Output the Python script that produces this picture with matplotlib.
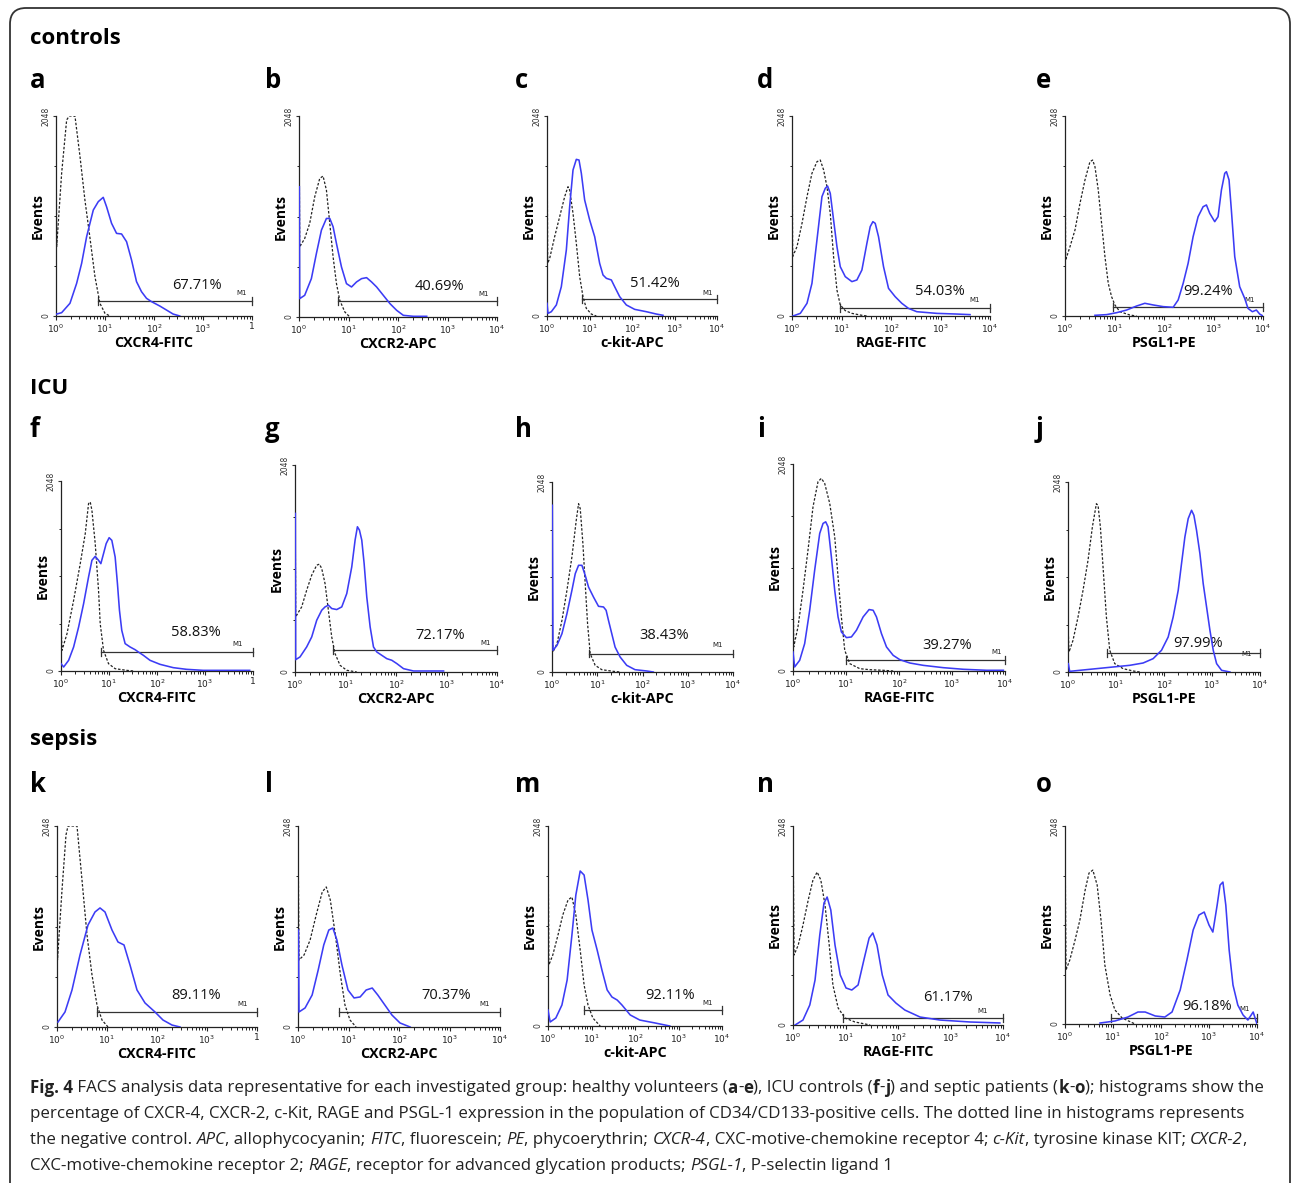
import numpy as np
import matplotlib
matplotlib.use('Agg')
import matplotlib.pyplot as plt
from matplotlib.patches import FancyBboxPatch
from matplotlib.transforms import IdentityTransform
from matplotlib.ticker import FixedLocator, NullFormatter, LogLocator

# ---------------- data (x = log10 fluorescence, y = events) ----------------
GROUPS = ['controls', 'ICU', 'sepsis']
LETTERS = list('abcdefghijklmno')
MARKERS = ['CXCR4-FITC', 'CXCR2-APC', 'c-kit-APC', 'RAGE-FITC', 'PSGL1-PE']
PERCENTS = ['67.71%', '40.69%', '51.42%', '54.03%', '99.24%',
            '58.83%', '72.17%', '38.43%', '39.27%', '97.99%',
            '89.11%', '70.37%', '92.11%', '61.17%', '96.18%']
GATE_START = [0.85, 0.79, 0.82, 0.96, 0.975, 0.83, 0.76, 0.82, 0.995, 0.82,
              0.80, 0.81, 0.83, 0.95, 0.96]
GATE_LEVEL = [154, 160, 171, 85, 89, 205, 215, 198, 112, 205, 153, 153, 164, 72, 62]
Y_MAX = 2048

a_ctrl_x = [0.0, 0.014, 0.115, 0.217, 0.27, 0.387, 0.49, 0.59, 0.69, 0.795, 0.896, 1.0, 1.1]
a_ctrl_y = [1930, 710, 1461, 2007, 2048, 2048, 1632, 1188, 812, 403, 130, 27, 0]
a_pos_x = [0.014, 0.115, 0.285, 0.421, 0.523, 0.625, 0.693, 0.761, 0.863, 0.964, 1.032, 1.134,
           1.236, 1.338, 1.44, 1.542, 1.643, 1.745, 1.847, 1.949, 2.119, 2.255, 2.39, 2.526]
a_pos_y = [20, 34, 130, 334, 539, 812, 949, 1085, 1171, 1215, 1119, 949,
           846, 840, 761, 573, 352, 249, 181, 147, 102, 61, 20, 0]

b_ctrl_x = [0.0, 0.014, 0.115, 0.216, 0.318, 0.419, 0.486, 0.554, 0.622, 0.689, 0.757, 0.824, 0.926, 1.027]
b_ctrl_y = [2048, 714, 800, 953, 1225, 1412, 1436, 1293, 953, 612, 340, 170, 51, 0]
b_pos_x = [0.007, 0.014, 0.115, 0.25, 0.351, 0.453, 0.554, 0.622, 0.689, 0.757, 0.858, 0.959,
           1.061, 1.162, 1.264, 1.365, 1.466, 1.568, 1.703, 1.838, 1.973, 2.108, 2.311, 2.58]
b_pos_y = [1327, 187, 221, 391, 646, 885, 1004, 1004, 919, 748, 510, 340,
           306, 357, 391, 401, 357, 306, 221, 136, 68, 17, 7, 7]

c_ctrl_x = [0.0, 0.016, 0.063, 0.18, 0.298, 0.416, 0.494, 0.533, 0.612, 0.69, 0.769, 0.847, 0.925, 1.043, 1.16]
c_ctrl_y = [2048, 539, 590, 812, 1017, 1222, 1324, 1290, 1051, 744, 403, 198, 78, 20, 0]
c_pos_x = [0.0, 0.024, 0.102, 0.22, 0.337, 0.455, 0.533, 0.612, 0.69, 0.753, 0.808, 0.886,
           1.004, 1.122, 1.239, 1.318, 1.396, 1.514, 1.592, 1.71, 1.867, 2.063, 2.337, 2.573, 2.729]
c_pos_y = [130, 27, 44, 113, 300, 676, 1119, 1495, 1604, 1597, 1461, 1188,
           983, 812, 539, 420, 386, 369, 300, 198, 113, 68, 44, 20, 7]

d_ctrl_x = [0.0, 0.013, 0.101, 0.202, 0.303, 0.403, 0.504, 0.571, 0.639, 0.706, 0.773, 0.84,
            0.908, 0.975, 1.076, 1.21, 1.378, 1.513]
d_ctrl_y = [2048, 608, 710, 949, 1222, 1461, 1580, 1597, 1495, 1324, 1051, 608,
            266, 113, 55, 27, 10, 0]
d_pos_x = [0.02, 0.168, 0.303, 0.403, 0.504, 0.605, 0.672, 0.719, 0.773, 0.84, 0.908, 0.975,
           1.076, 1.21, 1.311, 1.412, 1.513, 1.58, 1.634, 1.681, 1.748, 1.849, 1.95, 2.084,
           2.218, 2.353, 2.521, 2.924, 3.328, 3.597]
d_pos_y = [0, 27, 130, 334, 778, 1222, 1307, 1331, 1256, 983, 710, 505,
           403, 352, 369, 471, 744, 915, 966, 949, 812, 505, 283, 198,
           130, 78, 44, 27, 20, 14]

e_ctrl_x = [0.0, 0.013, 0.101, 0.202, 0.303, 0.403, 0.504, 0.558, 0.605, 0.672, 0.739, 0.807,
            0.874, 0.941, 1.008, 1.109, 1.311, 1.445]
e_ctrl_y = [2048, 573, 710, 881, 1154, 1392, 1580, 1597, 1529, 1290, 949, 608,
            334, 198, 113, 44, 10, 0]
e_pos_x = [0.605, 0.84, 1.042, 1.244, 1.445, 1.613, 1.782, 1.983, 2.185, 2.286, 2.387, 2.487,
           2.588, 2.689, 2.79, 2.857, 2.924, 3.025, 3.092, 3.16, 3.227, 3.261, 3.314, 3.361,
           3.429, 3.529, 3.63, 3.697, 3.785, 3.866, 3.933, 4.0]
e_pos_y = [7, 14, 34, 61, 102, 130, 113, 96, 89, 164, 334, 539,
           812, 1017, 1119, 1137, 1051, 966, 1017, 1290, 1461, 1478, 1393, 1085,
           608, 300, 181, 78, 44, 61, 20, 0]

f_ctrl_x = [0.0, 0.021, 0.125, 0.263, 0.401, 0.505, 0.574, 0.609, 0.644, 0.713, 0.782, 0.817,
            0.886, 0.99, 1.128, 1.37, 1.509]
f_ctrl_y = [510, 223, 402, 762, 1157, 1480, 1804, 1822, 1732, 1373, 869, 510,
            223, 79, 25, 7, 0]
f_pos_x = [0.0, 0.055, 0.159, 0.263, 0.367, 0.471, 0.574, 0.644, 0.713, 0.782, 0.83, 0.886,
           0.941, 1.003, 1.059, 1.128, 1.176, 1.218, 1.266, 1.336, 1.439, 1.543, 1.612, 1.716,
           1.855, 2.062, 2.339, 2.616, 2.962, 3.446, 3.931]
f_pos_y = [79, 43, 115, 259, 474, 726, 1013, 1193, 1236, 1193, 1157, 1265,
           1373, 1437, 1408, 1229, 941, 654, 438, 295, 259, 230, 205, 169,
           115, 72, 36, 18, 7, 7, 7]

g_ctrl_x = [0.0, 0.013, 0.132, 0.231, 0.331, 0.43, 0.483, 0.529, 0.595, 0.661, 0.727, 0.793,
            0.893, 1.025, 1.223]
g_ctrl_y = [2048, 545, 644, 809, 958, 1057, 1067, 1024, 875, 611, 347, 182, 66, 17, 0]
g_pos_x = [0.007, 0.013, 0.099, 0.231, 0.331, 0.43, 0.529, 0.595, 0.661, 0.727, 0.826, 0.926,
           1.025, 1.124, 1.19, 1.236, 1.276, 1.322, 1.369, 1.421, 1.488, 1.554, 1.62, 1.719,
           1.818, 1.917, 2.017, 2.149, 2.347, 2.678, 2.942]
g_pos_y = [1569, 122, 149, 248, 347, 512, 611, 644, 661, 628, 618, 644,
           776, 1040, 1305, 1437, 1404, 1305, 1073, 743, 446, 248, 198, 165,
           132, 116, 83, 33, 10, 10, 10]

h_ctrl_x = [0.0, 0.022, 0.11, 0.22, 0.33, 0.44, 0.536, 0.587, 0.624, 0.683, 0.734, 0.786,
            0.844, 0.954, 1.101, 1.358, 1.505]
h_ctrl_y = [521, 216, 305, 557, 880, 1240, 1635, 1814, 1761, 1383, 952, 521,
            198, 72, 25, 7, 0]
h_pos_x = [0.007, 0.022, 0.11, 0.22, 0.33, 0.44, 0.514, 0.587, 0.661, 0.734, 0.807, 0.917,
           1.028, 1.138, 1.196, 1.248, 1.321, 1.394, 1.505, 1.651, 1.835, 2.092, 2.239]
h_pos_y = [1797, 234, 287, 413, 629, 880, 1060, 1150, 1150, 1042, 916, 808,
           708, 701, 665, 557, 413, 269, 162, 72, 25, 11, 0]

i_ctrl_x = [0.0, 0.013, 0.094, 0.189, 0.283, 0.378, 0.472, 0.535, 0.598, 0.693, 0.787, 0.85,
            0.913, 0.976, 1.071, 1.26, 1.449, 1.701, 1.89]
i_ctrl_y = [1130, 238, 436, 799, 1196, 1625, 1873, 1906, 1856, 1658, 1328, 931,
            535, 205, 73, 23, 13, 7, 0]
i_pos_x = [0.0, 0.031, 0.126, 0.22, 0.315, 0.409, 0.504, 0.567, 0.617, 0.661, 0.724, 0.787,
           0.85, 0.913, 1.008, 1.102, 1.197, 1.323, 1.436, 1.512, 1.575, 1.669, 1.764, 1.89,
           2.016, 2.205, 2.457, 2.835, 3.213, 3.654, 3.969]
i_pos_y = [188, 40, 106, 271, 601, 998, 1361, 1460, 1476, 1427, 1130, 799,
           535, 386, 330, 337, 403, 535, 608, 601, 535, 370, 238, 155,
           112, 79, 56, 33, 17, 7, 7]

j_ctrl_x = [0.0, 0.021, 0.104, 0.209, 0.313, 0.417, 0.508, 0.591, 0.626, 0.675, 0.73, 0.8,
            0.87, 0.974, 1.148, 1.357, 1.496]
j_ctrl_y = [521, 216, 341, 593, 880, 1204, 1563, 1814, 1797, 1563, 1132, 593,
            234, 90, 36, 11, 0]
j_pos_x = [0.007, 0.035, 0.243, 0.591, 0.939, 1.287, 1.565, 1.774, 1.948, 2.087, 2.191, 2.296,
           2.365, 2.435, 2.504, 2.574, 2.623, 2.678, 2.748, 2.817, 2.887, 2.957, 3.026, 3.096,
           3.2, 3.374]
j_pos_y = [90, 7, 18, 36, 54, 72, 97, 144, 234, 377, 593, 880,
           1168, 1455, 1653, 1743, 1689, 1527, 1276, 952, 701, 449, 234, 90,
           18, 0]

k_ctrl_x = [0.0, 0.01, 0.1, 0.18, 0.22, 0.4, 0.5, 0.6, 0.7, 0.8, 0.9, 1.02]
k_ctrl_y = [2048, 683, 1396, 1957, 2048, 2048, 1498, 937, 530, 224, 71, 0]
k_pos_x = [0.02, 0.16, 0.3, 0.46, 0.62, 0.76, 0.86, 0.96, 1.1, 1.22, 1.34, 1.46,
           1.6, 1.76, 1.96, 2.12, 2.3, 2.46]
k_pos_y = [51, 153, 377, 734, 1039, 1172, 1213, 1172, 988, 866, 836, 632,
           377, 245, 153, 71, 20, 0]

l_ctrl_x = [0.0, 0.02, 0.12, 0.24, 0.36, 0.48, 0.56, 0.64, 0.74, 0.84, 0.93, 1.03, 1.15]
l_ctrl_y = [2048, 683, 734, 887, 1141, 1376, 1427, 1294, 937, 530, 224, 71, 0]
l_pos_x = [0.01, 0.02, 0.14, 0.28, 0.4, 0.51, 0.61, 0.69, 0.77, 0.87, 0.99, 1.11,
           1.23, 1.35, 1.47, 1.58, 1.72, 1.86, 2.02, 2.22]
l_pos_y = [988, 153, 194, 326, 581, 836, 988, 1009, 887, 632, 377, 296,
           306, 377, 397, 326, 224, 122, 41, 0]

m_ctrl_x = [0.0, 0.02, 0.11, 0.23, 0.34, 0.46, 0.55, 0.64, 0.74, 0.83, 0.92, 1.03, 1.2]
m_ctrl_y = [2048, 625, 727, 932, 1137, 1290, 1321, 1137, 778, 420, 215, 82, 0]
m_pos_x = [0.0, 0.05, 0.18, 0.32, 0.44, 0.55, 0.64, 0.74, 0.83, 0.92, 1.01, 1.13,
           1.24, 1.36, 1.47, 1.59, 1.7, 1.89, 2.11, 2.46, 2.8]
m_pos_y = [164, 41, 82, 215, 471, 932, 1341, 1587, 1546, 1290, 983, 778,
           573, 369, 297, 266, 215, 113, 61, 31, 0]

n_ctrl_x = [0.0, 0.02, 0.1, 0.19, 0.29, 0.38, 0.46, 0.53, 0.61, 0.69, 0.76, 0.86, 0.99, 1.18, 1.47]
n_ctrl_y = [2048, 720, 823, 1029, 1286, 1492, 1574, 1492, 1235, 823, 412, 175, 72, 31, 0]
n_pos_x = [0.04, 0.19, 0.32, 0.42, 0.51, 0.59, 0.65, 0.72, 0.8, 0.9, 1.01, 1.12,
           1.24, 1.35, 1.45, 1.52, 1.6, 1.7, 1.81, 1.96, 2.13, 2.42, 2.8, 3.37, 3.94]
n_pos_y = [0, 51, 206, 463, 926, 1255, 1317, 1183, 823, 515, 381, 360,
           412, 669, 895, 947, 823, 515, 309, 226, 154, 82, 51, 31, 21]

o_ctrl_x = [0.0, 0.02, 0.1, 0.21, 0.31, 0.42, 0.5, 0.58, 0.67, 0.75, 0.83, 0.94, 1.04, 1.19, 1.46]
o_ctrl_y = [2048, 558, 662, 869, 1075, 1386, 1561, 1592, 1437, 1075, 610, 300, 145, 62, 0]
o_pos_x = [0.73, 1.04, 1.31, 1.52, 1.67, 1.88, 2.08, 2.23, 2.4, 2.54, 2.67, 2.79,
           2.9, 3.0, 3.08, 3.17, 3.23, 3.29, 3.35, 3.42, 3.5, 3.6, 3.71, 3.81, 3.92, 4.0]
o_pos_y = [10, 31, 72, 124, 124, 83, 72, 124, 352, 662, 972, 1127,
           1158, 1024, 951, 1230, 1437, 1468, 1230, 765, 403, 196, 93, 41, 124, 0]

CTRL = [(a_ctrl_x, a_ctrl_y), (b_ctrl_x, b_ctrl_y), (c_ctrl_x, c_ctrl_y), (d_ctrl_x, d_ctrl_y),
        (e_ctrl_x, e_ctrl_y), (f_ctrl_x, f_ctrl_y), (g_ctrl_x, g_ctrl_y), (h_ctrl_x, h_ctrl_y),
        (i_ctrl_x, i_ctrl_y), (j_ctrl_x, j_ctrl_y), (k_ctrl_x, k_ctrl_y), (l_ctrl_x, l_ctrl_y),
        (m_ctrl_x, m_ctrl_y), (n_ctrl_x, n_ctrl_y), (o_ctrl_x, o_ctrl_y)]
POS = [(a_pos_x, a_pos_y), (b_pos_x, b_pos_y), (c_pos_x, c_pos_y), (d_pos_x, d_pos_y),
       (e_pos_x, e_pos_y), (f_pos_x, f_pos_y), (g_pos_x, g_pos_y), (h_pos_x, h_pos_y),
       (i_pos_x, i_pos_y), (j_pos_x, j_pos_y), (k_pos_x, k_pos_y), (l_pos_x, l_pos_y),
       (m_pos_x, m_pos_y), (n_pos_x, n_pos_y), (o_pos_x, o_pos_y)]

# ---------------- layout (pixels) ----------------
W, H = 1292, 1183
# left (10^0), right (10^4), top (2048), bottom (0)
AX_BOX = [(56, 252, 116, 316), (299, 497, 116, 317), (547, 717, 116, 316), (792, 990, 116, 316),
          (1065, 1263, 116, 316),
          (61, 253, 481, 671), (295, 497, 465, 672), (552, 733, 482, 672), (793, 1005, 464, 671),
          (1068, 1260, 482, 672),
          (57, 257, 826, 1027), (298, 500, 826, 1027), (548, 722, 826, 1026), (793, 1003, 826, 1025),
          (1065, 1257, 826, 1024)]
PCT_POS = [(2.87, 317), (2.84, 306), (2.53, 334), (2.99, 249), (2.89, 249),
           (2.82, 420), (2.88, 363), (2.47, 395), (2.90, 254), (2.70, 305),
           (2.78, 326), (2.93, 326), (2.80, 317), (2.95, 288), (2.96, 176)]
M1_POS = [(3.78, 232), (3.73, 232), (3.77, 232), (3.68, 160), (3.73, 160),
          (3.69, 290), (3.77, 290), (3.67, 290), (3.84, 190), (3.72, 190),
          (3.72, 230), (3.70, 230), (3.68, 240), (3.62, 140), (3.75, 150)]
LETTER_X = [30, 265, 515, 757, 1036]
LETTER_Y = [80, 430, 785]
GROUP_Y = [38, 388, 740]

BLUE = '#3c3cf5'
BOLD_FONT = ['Open Sans', 'DejaVu Sans']

fig = plt.figure(figsize=(W / 100, H / 100), dpi=100)
fig.patch.set_facecolor('white')


def fx(x):
    return x / W


def fy(y):
    return 1 - y / H


# border
border = FancyBboxPatch((10, -40), 1280, H - 8 + 40, boxstyle='round,pad=0,rounding_size=16',
                        transform=IdentityTransform(), fill=False, ec='#333333', lw=1.3)
fig.add_artist(border)

for gi, g in enumerate(GROUPS):
    fig.text(fx(30), fy(GROUP_Y[gi]), g, family=BOLD_FONT, fontweight='bold', fontsize=16,
             va='center', ha='left')
    for ci in range(5):
        fig.text(fx(LETTER_X[ci]), fy(LETTER_Y[gi]), LETTERS[gi * 5 + ci], family=BOLD_FONT,
                 fontweight='bold', fontsize=18.5, va='center', ha='left')

for p in range(15):
    L, R, T, B = AX_BOX[p]
    ax = fig.add_axes([fx(L), fy(B), (R - L) / W, (B - T) / H])
    ax.set_xscale('log')
    ax.set_xlim(1, 1e4)
    ax.set_ylim(0, Y_MAX)
    ax.patch.set_alpha(0)
    for s in ['top', 'right']:
        ax.spines[s].set_visible(False)
    for s in ['left', 'bottom']:
        ax.spines[s].set_linewidth(0.9)
        ax.spines[s].set_color('#222222')

    cx, cy = CTRL[p]
    ax.plot(np.power(10.0, cx), cy, color='#222222', lw=0.9, ls=(0, (2.0, 1.4)), zorder=3)
    px, py = POS[p]
    ax.plot(np.power(10.0, px), py, color=BLUE, lw=1.15, zorder=3.1)

    # gate M1
    g0 = 10 ** GATE_START[p]
    gy = GATE_LEVEL[p]
    ax.plot([g0, 1e4], [gy, gy], color='#333333', lw=0.9, clip_on=False)
    cap = 40
    for xv in (g0, 1e4):
        ax.plot([xv, xv], [gy - cap, gy + cap], color='#333333', lw=0.9, clip_on=False)
    ax.text(10 ** PCT_POS[p][0], PCT_POS[p][1], PERCENTS[p], fontsize=10.5, family=BOLD_FONT,
            ha='center', va='center', color='#111111')
    ax.text(10 ** M1_POS[p][0], M1_POS[p][1], 'M1', fontsize=5, ha='center', va='center',
            color='#222222')

    # ticks
    ax.xaxis.set_major_locator(FixedLocator([1, 10, 100, 1000, 10000]))
    ax.xaxis.set_minor_locator(LogLocator(base=10, subs=np.arange(2, 10)))
    ax.xaxis.set_minor_formatter(NullFormatter())
    last = '1' if p % 5 == 0 else r'$10^{4}$'
    ax.set_xticklabels([r'$10^{0}$', r'$10^{1}$', r'$10^{2}$', r'$10^{3}$', last])
    ax.yaxis.set_major_locator(FixedLocator([0, 2048]))
    ax.yaxis.set_minor_locator(FixedLocator([512, 1024, 1536]))
    ax.set_yticklabels(['0', '2048'])
    ax.tick_params(axis='x', which='major', length=3, width=0.8, labelsize=6.5, pad=1.5,
                   colors='#222222')
    ax.tick_params(axis='x', which='minor', length=1.8, width=0.6)
    ax.tick_params(axis='y', which='major', length=2.5, width=0.8, labelsize=5.5, pad=1.5,
                   labelrotation=90, colors='#333333')
    ax.tick_params(axis='y', which='minor', length=1.8, width=0.6)
    for lab in ax.get_yticklabels():
        lab.set_va('center')

    ax.text(-18 / (R - L), 0.5, 'Events', transform=ax.transAxes, rotation=90,
            family=BOLD_FONT, fontweight='bold', fontsize=10, ha='center', va='center')
    ax.text(0.5, -27 / (B - T), MARKERS[p % 5], transform=ax.transAxes,
            family=BOLD_FONT, fontweight='bold', fontsize=10.3, ha='center', va='center')

# ---------------- caption ----------------
CAP_FONT = ['Liberation Sans Narrow', 'Open Sans', 'DejaVu Sans']
CAPTION = [
    [('Fig. 4', 'b'), (' FACS analysis data representative for each investigated group: healthy volunteers (', 'n'),
     ('a', 'b'), ('-', 'n'), ('e', 'b'), ('), ICU controls (', 'n'), ('f', 'b'), ('-', 'n'), ('j', 'b'),
     (') and septic patients (', 'n'), ('k', 'b'), ('-', 'n'), ('o', 'b'), ('); histograms show the', 'n')],
    [('percentage of CXCR-4, CXCR-2, c-Kit, RAGE and PSGL-1 expression in the population of CD34/CD133-positive cells. The dotted line in histograms represents', 'n')],
    [('the negative control. ', 'n'), ('APC', 'i'), (', allophycocyanin; ', 'n'), ('FITC', 'i'),
     (', fluorescein; ', 'n'), ('PE', 'i'), (', phycoerythrin; ', 'n'), ('CXCR-4', 'i'),
     (', CXC-motive-chemokine receptor 4; ', 'n'), ('c-Kit', 'i'), (', tyrosine kinase KIT; ', 'n'),
     ('CXCR-2', 'i'), (',', 'n')],
    [('CXC-motive-chemokine receptor 2; ', 'n'), ('RAGE', 'i'),
     (', receptor for advanced glycation products; ', 'n'), ('PSGL-1', 'i'), (', P-selectin ligand 1', 'n')],
]
CAP_Y = [1088, 1114, 1140, 1166]

renderer = fig.canvas.get_renderer()


def run_width(txt, style, size):
    kw = dict(fontsize=size, family=CAP_FONT,
              fontweight='bold' if style == 'b' else 'normal',
              fontstyle='italic' if style == 'i' else 'normal')
    t1 = fig.text(0, 0, '|' + txt + '|', **kw)
    t2 = fig.text(0, 0, '||', **kw)
    w = t1.get_window_extent(renderer).width - t2.get_window_extent(renderer).width
    t1.remove()
    t2.remove()
    return w


base = 10.0
w0 = sum(run_width(t, s, base) for t, s in CAPTION[0])
cap_size = base * 1232.0 / w0

for li, line in enumerate(CAPTION):
    x = 30.0
    for txt, st in line:
        fig.text(fx(x), fy(CAP_Y[li]), txt, fontsize=cap_size, family=CAP_FONT,
                 fontweight='bold' if st == 'b' else 'normal',
                 fontstyle='italic' if st == 'i' else 'normal',
                 va='center', ha='left', color='#222222')
        x += run_width(txt, st, cap_size)

fig.savefig('out.png', dpi=100, facecolor='white')
